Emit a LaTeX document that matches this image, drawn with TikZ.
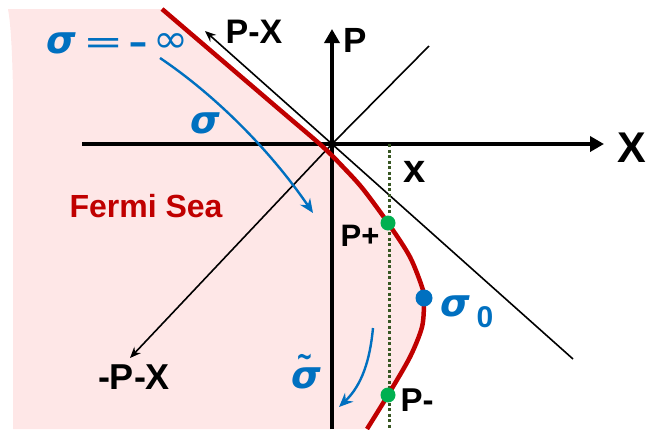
\documentclass[tikz,border=0pt]{standalone}
\usepackage{fontspec}
\setmainfont{Liberation Sans}
\newfontfamily\dejavu{DejaVu Sans}
\usetikzlibrary{arrows.meta}
\definecolor{seapink}{RGB}{254,231,231}
\definecolor{fred}{RGB}{192,0,0}
\definecolor{sblue}{RGB}{0,112,192}
\definecolor{dgreen}{RGB}{56,87,35}
\definecolor{pgreen}{RGB}{0,176,80}
\newcommand{\sigbf}{\dejavu\bfseries\itshape\fontsize{38}{42}\selectfont}
\tikzset{
  axis/.style={line width=3.5pt, -{Triangle[length=14pt,width=15pt]}},
  diag/.style={line width=1.6pt},
  diagarrow/.style={line width=1.6pt, -{Stealth[length=11pt,width=9pt]}},
  bluearrow/.style={sblue, line width=2.4pt, -{Stealth[length=14pt,width=12pt]}},
  lbl/.style={font=\fontsize{32}{36}\selectfont\bfseries, inner sep=0pt},
  sig/.style={sblue, font=\sigbf, inner sep=0pt},
  gdot/.style={circle, fill=pgreen, minimum size=15pt, inner sep=0pt},
  bdot/.style={circle, fill=sblue, minimum size=17pt, inner sep=0pt},
}
\begin{document}
\begin{tikzpicture}[x=1pt,y=-1pt]
\useasboundingbox (0,0) rectangle (646,429);
% Fermi sea
\fill[seapink] (8,9) -- plot[smooth,tension=0.5] coordinates {(162,9) (280,110) (322,146) (344,168) (363,189) (388,223) (410,257) (423,290) (424,302) (422,327) (410,357) (388,395) (367,429)} -- (13,429) -- (13,90) .. controls (12,40) and (10,20) .. (8,9) -- cycle;
% coordinates
\coordinate (O) at (332,144);
\coordinate (Xl) at (82,144);
\coordinate (Xr) at (604,144);
\coordinate (Pb) at (332,429);
\coordinate (Pt) at (332,29);
\coordinate (UR) at (429,46);
\coordinate (DL) at (130,358);
\coordinate (PXt) at (205,31);
\coordinate (PXb) at (573,359);
\coordinate (Dt) at (389,144);
\coordinate (Db) at (389,429);
% axes
\draw[axis] (Xl) -- (Xr);
\draw[axis] (Pb) -- (Pt);
% diagonals
\draw[diag] (O) -- (UR);
\draw[diagarrow] (O) -- (DL);
\draw[diag] (O) -- (PXb);
\draw[diagarrow] (O) -- (PXt);
% dotted
\draw[dgreen, line width=3pt, dash pattern=on 3pt off 2.5pt] (Dt) -- (Db);
% red curve
\draw[fred, line width=4.5pt] plot[smooth,tension=0.5] coordinates {(162,9) (280,110) (322,146) (344,168) (363,189) (388,223) (410,257) (423,290) (424,302) (422,327) (410,357) (388,395) (367,429)};
% dots
\node[gdot] (Pp) at (388,223) {};
\node[gdot] (Pm) at (388,395) {};
\node[bdot] (S0) at (424,298) {};
% labels
\node[lbl, font=\fontsize{34}{38}\selectfont\bfseries] (lPX) at (254,32) {P-X};
\node[lbl, font=\fontsize{36}{40}\selectfont\bfseries] (lmPX) at (134,377) {-P-X};
\node[lbl, font=\fontsize{35}{40}\selectfont\bfseries] (lP) at (355,40) {P};
\node[lbl, font=\fontsize{43}{48}\selectfont\bfseries] (lX) at (632,148) {X};
\node[lbl, font=\fontsize{40}{44}\selectfont\bfseries] (lx) at (415,172) {x};
\node[lbl, fred] (lFS) at (146,206) {Fermi Sea};
\node[lbl, font=\fontsize{31}{36}\selectfont\bfseries] (lPp) at (360,236) {P+};
\node[lbl, font=\fontsize{33}{36}\selectfont\bfseries] (lPm) at (417,400) {P-};
\node[sig] (ls0) at (455,306) {σ};
\node[lbl, sblue, font=\fontsize{30}{34}\selectfont\bfseries] (l0) at (485,317) {0};
\node[sblue, anchor=base west, inner sep=0pt] (lsinf) at (46,53) {\sigbf σ\hspace{8pt}{\dejavu\mdseries\upshape\fontsize{30}{34}\selectfont \scalebox{1.6}[1.1]{=}\hspace{4pt}{\bfseries\scalebox{1.6}[1]{-}}\hspace{6pt}\raisebox{1pt}{\scalebox{1.4}[1.3]{∞}}}};
\node[sblue, anchor=base west, inner sep=0pt] (lst) at (291,388) {\sigbf σ\llap{\raisebox{22pt}{\dejavu\bfseries\upshape\fontsize{20}{22}\selectfont\scalebox{1}[1.5]{∼}}\hspace{8pt}}};
\node[sig] (ls) at (205,123) {σ};
% blue arrows
\coordinate (A1s) at (160,58);
\coordinate (A1e) at (313,213);
\coordinate (A2s) at (373,328);
\coordinate (A2e) at (339,407);
\draw[bluearrow] (A1s) .. controls (215,95) and (270,150) .. (A1e);
\draw[bluearrow] (A2s) .. controls (370,360) and (362,385) .. (A2e);
\end{tikzpicture}
\end{document}
